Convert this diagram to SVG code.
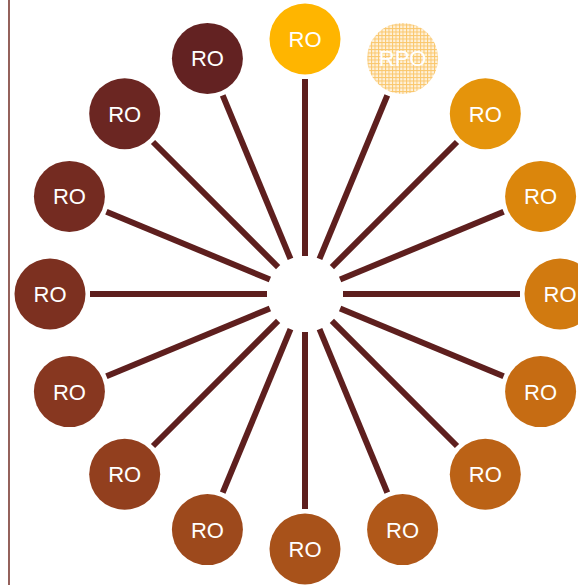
<svg xmlns="http://www.w3.org/2000/svg" width="578" height="585" viewBox="0 0 578 585">
<style>
.n text{font-family:"Liberation Sans",Arial,sans-serif;font-size:22px;fill:#fff;text-anchor:middle}
.c line{stroke:#5E1F1E;stroke-width:6}
</style>
<defs>
<pattern id="grid" width="3.5" height="3.5" patternUnits="userSpaceOnUse">
<rect width="3.5" height="3.5" fill="#FEF1DA"/>
<rect x="0" y="0" width="1" height="3.5" fill="#FAC76C"/>
<rect x="0" y="0" width="3.5" height="1" fill="#FAC76C"/>
</pattern>
</defs>
<rect width="578" height="585" fill="#fff"/>
<line x1="9" y1="0" x2="9" y2="585" stroke="#7A3A33" stroke-width="1.6"/>
<g id="connectors" class="c">
<line x1="305" y1="256" x2="305" y2="79"/>
<line x1="319.5" y1="258.9" x2="387.3" y2="95.4"/>
<line x1="331.9" y1="267.1" x2="457.0" y2="142.0"/>
<line x1="340.1" y1="279.5" x2="503.6" y2="211.7"/>
<line x1="343" y1="294" x2="520" y2="294"/>
<line x1="340.1" y1="308.5" x2="503.6" y2="376.3"/>
<line x1="331.9" y1="320.9" x2="457.0" y2="446.0"/>
<line x1="319.5" y1="329.1" x2="387.3" y2="492.6"/>
<line x1="305" y1="332" x2="305" y2="509"/>
<line x1="290.5" y1="329.1" x2="222.7" y2="492.6"/>
<line x1="278.1" y1="320.9" x2="153.0" y2="446.0"/>
<line x1="269.9" y1="308.5" x2="106.4" y2="376.3"/>
<line x1="267" y1="294" x2="90" y2="294"/>
<line x1="269.9" y1="279.5" x2="106.4" y2="211.7"/>
<line x1="278.1" y1="267.1" x2="153.0" y2="142.0"/>
<line x1="290.5" y1="258.9" x2="222.7" y2="95.4"/>
</g>
<g id="n0" class="n"><circle cx="305" cy="39" r="35.5" fill="#FFB500"/><text x="305" y="47">RO</text></g>
<g id="n1" class="n"><circle cx="402.6" cy="58.4" r="35.5" fill="url(#grid)"/><text x="402.6" y="66.4">RPO</text></g>
<g id="n2" class="n"><circle cx="485.3" cy="113.7" r="35.5" fill="#E5940B"/><text x="485.3" y="121.7">RO</text></g>
<g id="n3" class="n"><circle cx="540.6" cy="196.4" r="35.5" fill="#DB860C"/><text x="540.6" y="204.4">RO</text></g>
<g id="n4" class="n"><circle cx="560" cy="294" r="35.5" fill="#D17A10"/><text x="560" y="302">RO</text></g>
<g id="n5" class="n"><circle cx="540.6" cy="391.6" r="35.5" fill="#C66C13"/><text x="540.6" y="399.6">RO</text></g>
<g id="n6" class="n"><circle cx="485.3" cy="474.3" r="35.5" fill="#BB6216"/><text x="485.3" y="482.3">RO</text></g>
<g id="n7" class="n"><circle cx="402.6" cy="529.6" r="35.5" fill="#B05819"/><text x="402.6" y="537.6">RO</text></g>
<g id="n8" class="n"><circle cx="305" cy="549" r="35.5" fill="#A8521A"/><text x="305" y="557">RO</text></g>
<g id="n9" class="n"><circle cx="207.4" cy="529.6" r="35.5" fill="#9D491C"/><text x="207.4" y="537.6">RO</text></g>
<g id="n10" class="n"><circle cx="124.7" cy="474.3" r="35.5" fill="#923F1E"/><text x="124.7" y="482.3">RO</text></g>
<g id="n11" class="n"><circle cx="69.4" cy="391.6" r="35.5" fill="#873720"/><text x="69.4" y="399.6">RO</text></g>
<g id="n12" class="n"><circle cx="50" cy="294" r="35.5" fill="#7C3020"/><text x="50" y="302">RO</text></g>
<g id="n13" class="n"><circle cx="69.4" cy="196.4" r="35.5" fill="#742B21"/><text x="69.4" y="204.4">RO</text></g>
<g id="n14" class="n"><circle cx="124.7" cy="113.7" r="35.5" fill="#6B2622"/><text x="124.7" y="121.7">RO</text></g>
<g id="n15" class="n"><circle cx="207.4" cy="58.4" r="35.5" fill="#632222"/><text x="207.4" y="66.4">RO</text></g>
</svg>
